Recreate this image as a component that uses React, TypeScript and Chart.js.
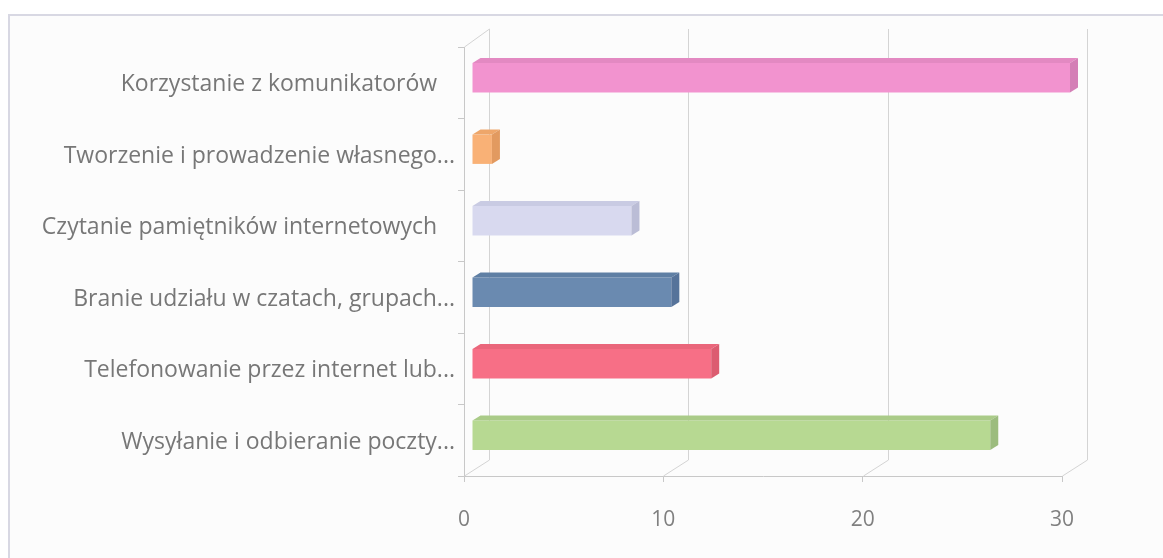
import { useEffect, useRef } from "react";
import { Chart, registerables } from "chart.js";

Chart.register(...registerables);

// Activities (top to bottom) and how many respondents chose each.
const categories = [
  "Korzystanie z komunikatorów   ",
  "Tworzenie i prowadzenie własnego...",
  "Czytanie pamiętników internetowych   ",
  "Branie udziału w czatach, grupach...",
  "Telefonowanie przez internet lub...",
  "Wysyłanie i odbieranie poczty...",
];
const values = [30, 1, 8, 10, 12, 26];
const xTicks = [0, 10, 20, 30];

// Per-bar palette: front face, top face, side face.
const frontColors = ["#F293CF", "#F9B176", "#D8D9EF", "#6A8AB0", "#F76F86", "#B7D992"];
const topColors = ["#E389C2", "#EEA66A", "#C9CBE3", "#5F7FA4", "#EA667B", "#AACB88"];
const sideColors = ["#D47FB6", "#E29A60", "#BBBDD6", "#56739A", "#DC5C70", "#9CBC7E"];

// Depth of the pseudo-3D box and where the bars sit inside it.
const DEPTH_X = 25;
const DEPTH_Y = -16;
const BAR_FRONT = 0.32;
const BAR_DEPTH = 0.32;

const wallPlugin = {
  id: "wall3d",
  beforeDraw(chart: any) {
    const { ctx, width, height } = chart;
    ctx.save();
    ctx.fillStyle = "#FFFFFF";
    ctx.fillRect(0, 0, width, height);
    ctx.fillStyle = "#FCFCFC";
    ctx.fillRect(9, 15, width - 9, height - 15);
    ctx.strokeStyle = "#D8D8E3";
    ctx.lineWidth = 2;
    ctx.beginPath();
    ctx.moveTo(9, height);
    ctx.lineTo(9, 15);
    ctx.lineTo(width, 15);
    ctx.stroke();
    ctx.restore();
  },
  beforeDatasetsDraw(chart: any) {
    const { ctx, chartArea: a, scales } = chart;
    const xs = scales.x;
    ctx.save();
    ctx.strokeStyle = "#D4D4D4";
    ctx.lineWidth = 1;
    ctx.beginPath();
    // left wall top edge
    ctx.moveTo(a.left + 0.5, a.top);
    ctx.lineTo(a.left + DEPTH_X + 0.5, a.top + DEPTH_Y - 2);
    for (const v of xTicks) {
      const px = Math.round(xs.getPixelForValue(v)) + 0.5;
      // floor diagonal and back-wall gridline
      ctx.moveTo(px, a.bottom);
      ctx.lineTo(px + DEPTH_X, a.bottom + DEPTH_Y);
      ctx.lineTo(px + DEPTH_X, a.top + DEPTH_Y - 2);
    }
    ctx.stroke();
    ctx.restore();
    // bars are drawn on a plane pushed into the box
    ctx.save();
    ctx.translate(Math.round(DEPTH_X * BAR_FRONT), Math.round(DEPTH_Y * BAR_FRONT));
  },
  afterDatasetsDraw(chart: any) {
    const { ctx } = chart;
    const dx = Math.round(DEPTH_X * BAR_DEPTH);
    const dy = Math.round(DEPTH_Y * BAR_DEPTH);
    const meta = chart.getDatasetMeta(0);
    meta.data.forEach((bar: any, i: number) => {
      const { x, y, base, height } = bar.getProps(["x", "y", "base", "height"], true);
      const top = y - height / 2;
      const bottom = y + height / 2;
      // top face
      ctx.fillStyle = topColors[i];
      ctx.beginPath();
      ctx.moveTo(base, top);
      ctx.lineTo(x, top);
      ctx.lineTo(x + dx, top + dy);
      ctx.lineTo(base + dx, top + dy);
      ctx.closePath();
      ctx.fill();
      // end face
      ctx.fillStyle = sideColors[i];
      ctx.beginPath();
      ctx.moveTo(x, top);
      ctx.lineTo(x + dx, top + dy);
      ctx.lineTo(x + dx, bottom + dy);
      ctx.lineTo(x, bottom);
      ctx.closePath();
      ctx.fill();
    });
    ctx.restore();
  },
};

export default function App() {
  const canvasRef = useRef<HTMLCanvasElement | null>(null);

  useEffect(() => {
    const canvas = canvasRef.current;
    if (!canvas) return;
    const chart = new Chart(canvas, {
      type: "bar",
      data: {
        labels: categories,
        datasets: [
          {
            data: values,
            backgroundColor: frontColors,
            borderWidth: 0,
            barPercentage: 0.41,
            categoryPercentage: 1,
            clip: false as any,
          },
        ],
      },
      options: {
        indexAxis: "y",
        animation: false,
        responsive: true,
        maintainAspectRatio: false,
        layout: { padding: { left: 0, top: 47, right: 101, bottom: 0 } },
        plugins: {
          legend: { display: false },
          tooltip: { enabled: false },
        },
        scales: {
          x: {
            min: 0,
            max: 30,
            afterBuildTicks: (s: any) => {
              s.ticks = xTicks.map((v) => ({ value: v }));
            },
            afterFit: (s: any) => {
              s.height = 82;
            },
            grid: {
              drawOnChartArea: false,
              drawTicks: true,
              tickLength: 6,
              color: "#C8C8C8",
            },
            border: { display: true, color: "#C8C8C8" },
            ticks: {
              color: "#808080",
              padding: 25,
              font: { family: "Open Sans", size: 21 },
            },
          },
          y: {
            afterFit: (s: any) => {
              s.width = 464;
            },
            grid: {
              drawOnChartArea: false,
              drawTicks: true,
              tickLength: 6,
              color: "#C8C8C8",
            },
            border: { display: true, color: "#C8C8C8" },
            ticks: {
              color: "#777777",
              padding: 3,
              labelOffset: 2,
              autoSkip: false,
              font: { family: "Open Sans", size: 23 },
            },
          },
        },
      },
      plugins: [wallPlugin],
    });
    return () => chart.destroy();
  }, []);

  return (
    <div style={{ position: "fixed", left: 0, top: 0, width: 1163, height: 558 }}>
      <canvas ref={canvasRef} />
    </div>
  );
}
